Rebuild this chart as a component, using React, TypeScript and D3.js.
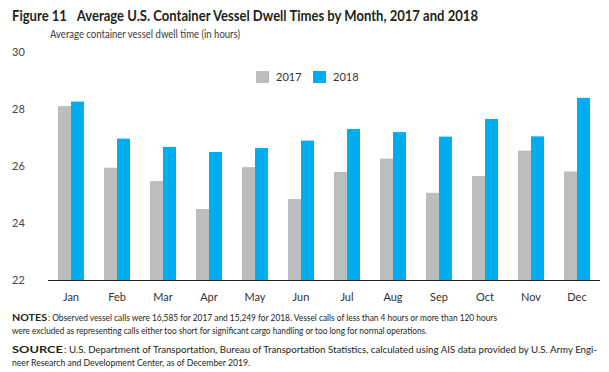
import React from 'react';
import * as d3 from 'd3';

const months = ['Jan', 'Feb', 'Mar', 'Apr', 'May', 'Jun', 'Jul', 'Aug', 'Sep', 'Oct', 'Nov', 'Dec'];
const series = ['2017', '2018'];
const values2017 = [28.1, 25.94, 25.47, 24.49, 25.96, 24.84, 25.79, 26.26, 25.06, 25.65, 26.54, 25.81];
const values2018 = [28.26, 26.96, 26.67, 26.49, 26.63, 26.89, 27.3, 27.19, 27.03, 27.65, 27.04, 28.39];
const yTicks = [22, 24, 26, 28, 30];

const colors = ['#bcbdbf', '#00aeef'];
const font = 'Lato, "Open Sans", sans-serif';

const App = () => {
    const width = 609;
    const height = 372;

    const x = d3.scaleBand().domain(months).range([48, 600]).padding(0);
    const inner = d3.scaleBand().domain(series).range([x.bandwidth() / 2 - 13, x.bandwidth() / 2 + 13]).padding(0);
    const y = d3.scaleLinear().domain([22, 30]).range([280, 52]);

    const rows = [values2017, values2018];

    return (
        <svg width={width} height={height} style={{ position: 'absolute', left: 0, top: 0 }}>
            <rect width={width} height={height} fill="#fff" />
            <text x={12} y={21} fontFamily={font} fontWeight="bold" fontSize={15.5} fill="#231f20"
                textLength={466} lengthAdjust="spacingAndGlyphs">
                Figure 11{'\u2003'}Average U.S. Container Vessel Dwell Times by Month, 2017 and 2018
            </text>
            <text x={50} y={38} fontFamily={font} fontSize={10.5} fill="#3a3a3a" textLength={190} lengthAdjust="spacingAndGlyphs">
                Average container vessel dwell time (in hours)
            </text>

            {yTicks.map((t) => (
                <text key={t} x={12} y={y(t)} dy="0.35em" fontFamily={font} fontSize={11} fill="#444">
                    {t}
                </text>
            ))}

            {months.map((m, i) => (
                <g key={m} transform={`translate(${x(m)},0)`}>
                    {series.map((s, j) => (
                        <rect key={s} x={inner(s)} y={y(rows[j][i])} width={inner.bandwidth()}
                            height={y(22) - y(rows[j][i])} fill={colors[j]} />
                    ))}
                    <text x={x.bandwidth() / 2} y={297} dy="0.35em" textAnchor="middle" fontFamily={font} fontSize={11} fill="#333">
                        {m}
                    </text>
                </g>
            ))}

            <line x1={48} x2={600} y1={280.5} y2={280.5} stroke="#231f20" strokeWidth={1.2} />

            {series.map((s, j) => (
                <g key={s} transform={`translate(${256 + j * 57},71)`}>
                    <rect width={13} height={12} fill={colors[j]} />
                    <text x={20} y={6} dy="0.35em" fontFamily={font} fontSize={11} fill="#333">{s}</text>
                </g>
            ))}

            <g fontFamily={font} fontSize={9.5} fill="#231f20">
                <text x={12} y={321} fontWeight="bold" textLength={35} lengthAdjust="spacingAndGlyphs">NOTES</text>
                <text x={48} y={321} textLength={449} lengthAdjust="spacingAndGlyphs">
                    : Observed vessel calls were 16,585 for 2017 and 15,249 for 2018. Vessel calls of less than 4 hours or more than 120 hours
                </text>
                <text x={12} y={334} textLength={415} lengthAdjust="spacingAndGlyphs">
                    were excluded as representing calls either too short for significant cargo handling or too long for normal operations.
                </text>
                <text x={12} y={353} fontWeight="bold" textLength={51} lengthAdjust="spacingAndGlyphs">SOURCE</text>
                <text x={64} y={353} fontSize={9} textLength={533} lengthAdjust="spacingAndGlyphs">
                    : U.S. Department of Transportation, Bureau of Transportation Statistics, calculated using AIS data provided by U.S. Army Engi-
                </text>
                <text x={12} y={366} textLength={238} lengthAdjust="spacingAndGlyphs">
                    neer Research and Development Center, as of December 2019.
                </text>
            </g>
        </svg>
    );
};

export default App;
